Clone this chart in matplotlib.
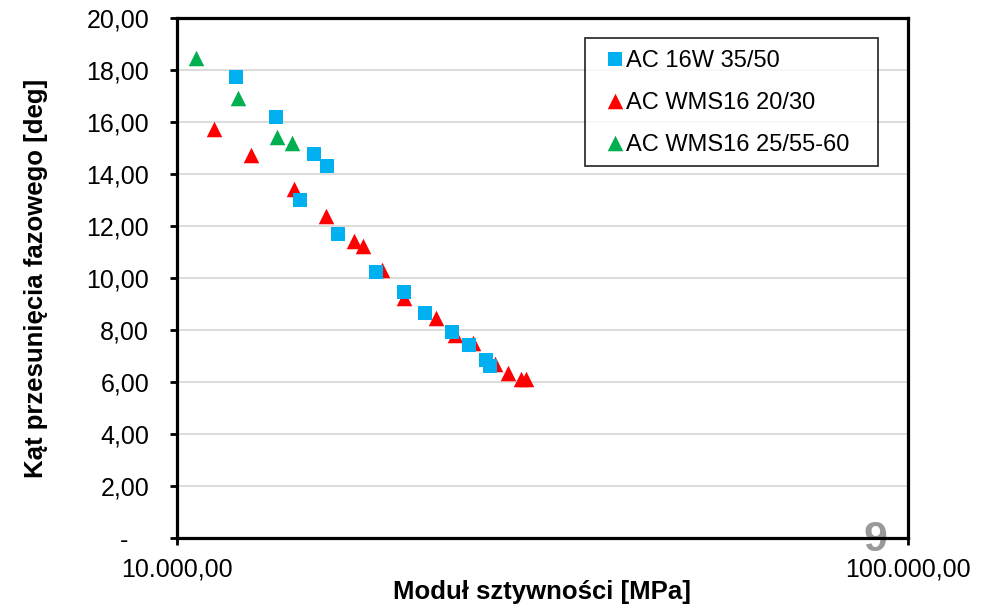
import matplotlib
matplotlib.use("Agg")
import matplotlib.pyplot as plt
from matplotlib.ticker import NullLocator

plt.rcParams['font.family'] = ['Liberation Sans', 'DejaVu Sans']

# moduł sztywności [MPa] i kąt przesunięcia fazowego [deg]
ac16w_x = [12053, 13674, 14745, 15408, 16023, 16588, 18720, 20423, 21859, 23781, 25112, 26443, 26778]
ac16w_y = [17.74, 16.19, 13.01, 14.77, 14.31, 11.69, 10.23, 9.47, 8.67, 7.94, 7.44, 6.85, 6.62]

wms2030_x = [11235, 12638, 14442, 15988, 17481, 17967, 19054, 20442, 22630, 24007, 25382, 27227, 28339, 29523, 30021]
wms2030_y = [15.74, 14.72, 13.42, 12.38, 11.43, 11.23, 10.31, 9.23, 8.45, 7.81, 7.50, 6.68, 6.36, 6.12, 6.12]

wms2555_x = [10607, 12106, 13717, 14378]
wms2555_y = [18.45, 16.91, 15.41, 15.18]

y_ticks = [0, 2, 4, 6, 8, 10, 12, 14, 16, 18, 20]
y_labels = ['-   ', '2,00', '4,00', '6,00', '8,00', '10,00', '12,00', '14,00', '16,00', '18,00', '20,00']
x_ticks = [10000, 100000]
x_labels = ['10.000,00', '100.000,00']

fig = plt.figure(figsize=(9.82, 6.05), dpi=100)
ax = fig.add_axes([0.1802, 0.1107, 0.7444, 0.8595])
ax.set_facecolor('none')

red = ax.scatter(wms2030_x, wms2030_y, marker='^', s=125, color='#ff0000', linewidths=0, zorder=3)
blue = ax.scatter(ac16w_x, ac16w_y, marker='s', s=115, color='#00b0f0', linewidths=0, zorder=4)
green = ax.scatter(wms2555_x, wms2555_y, marker='^', s=125, color='#00b050', linewidths=0, zorder=5)

ax.set_xscale('log')
ax.set_xlim(10000, 100000)
ax.set_ylim(0, 20)
ax.set_xticks(x_ticks)
ax.set_xticklabels(x_labels)
ax.xaxis.set_minor_locator(NullLocator())
ax.set_yticks(y_ticks)
ax.set_yticklabels(y_labels)

ax.grid(axis='y', color='#d9d9d9', linewidth=1.3)
ax.set_axisbelow(True)
for sp in ax.spines.values():
    sp.set_linewidth(2.3)
    sp.set_color('black')
ax.tick_params(axis='both', direction='out', length=5, width=2, labelsize=18)
ax.tick_params(axis='y', pad=15)
ax.tick_params(axis='x', pad=9)

ax.set_xlabel('Moduł sztywności [MPa]', fontsize=18.5, fontweight='bold')
ax.set_ylabel('Kąt przesunięcia fazowego [deg]', fontsize=18.5, fontweight='bold')
ax.xaxis.set_label_coords(0.5, -0.081)
ax.xaxis.label.set_va('top')
ax.yaxis.set_label_coords(-0.176, 0.5)

leg = ax.legend([blue, red, green],
                ['AC 16W 35/50', 'AC WMS16 20/30', 'AC WMS16 25/55-60'],
                loc='upper left', bbox_to_anchor=(0.5581, 0.5, 0.4009, 0.4615),
                mode='expand', fontsize=17, frameon=True, fancybox=False,
                edgecolor='black', handlelength=1.65, handletextpad=-0.35,
                handleheight=0.9, labelspacing=0.81, borderpad=0.45,
                borderaxespad=0, markerscale=1)
leg.get_frame().set_linewidth(1.3)

# numer slajdu pod osią
fig.text(0.891, 0.108, '9', fontsize=31, fontweight='bold', color='#999999',
         ha='center', va='center', zorder=-1)

fig.savefig('out.png', dpi=100)
